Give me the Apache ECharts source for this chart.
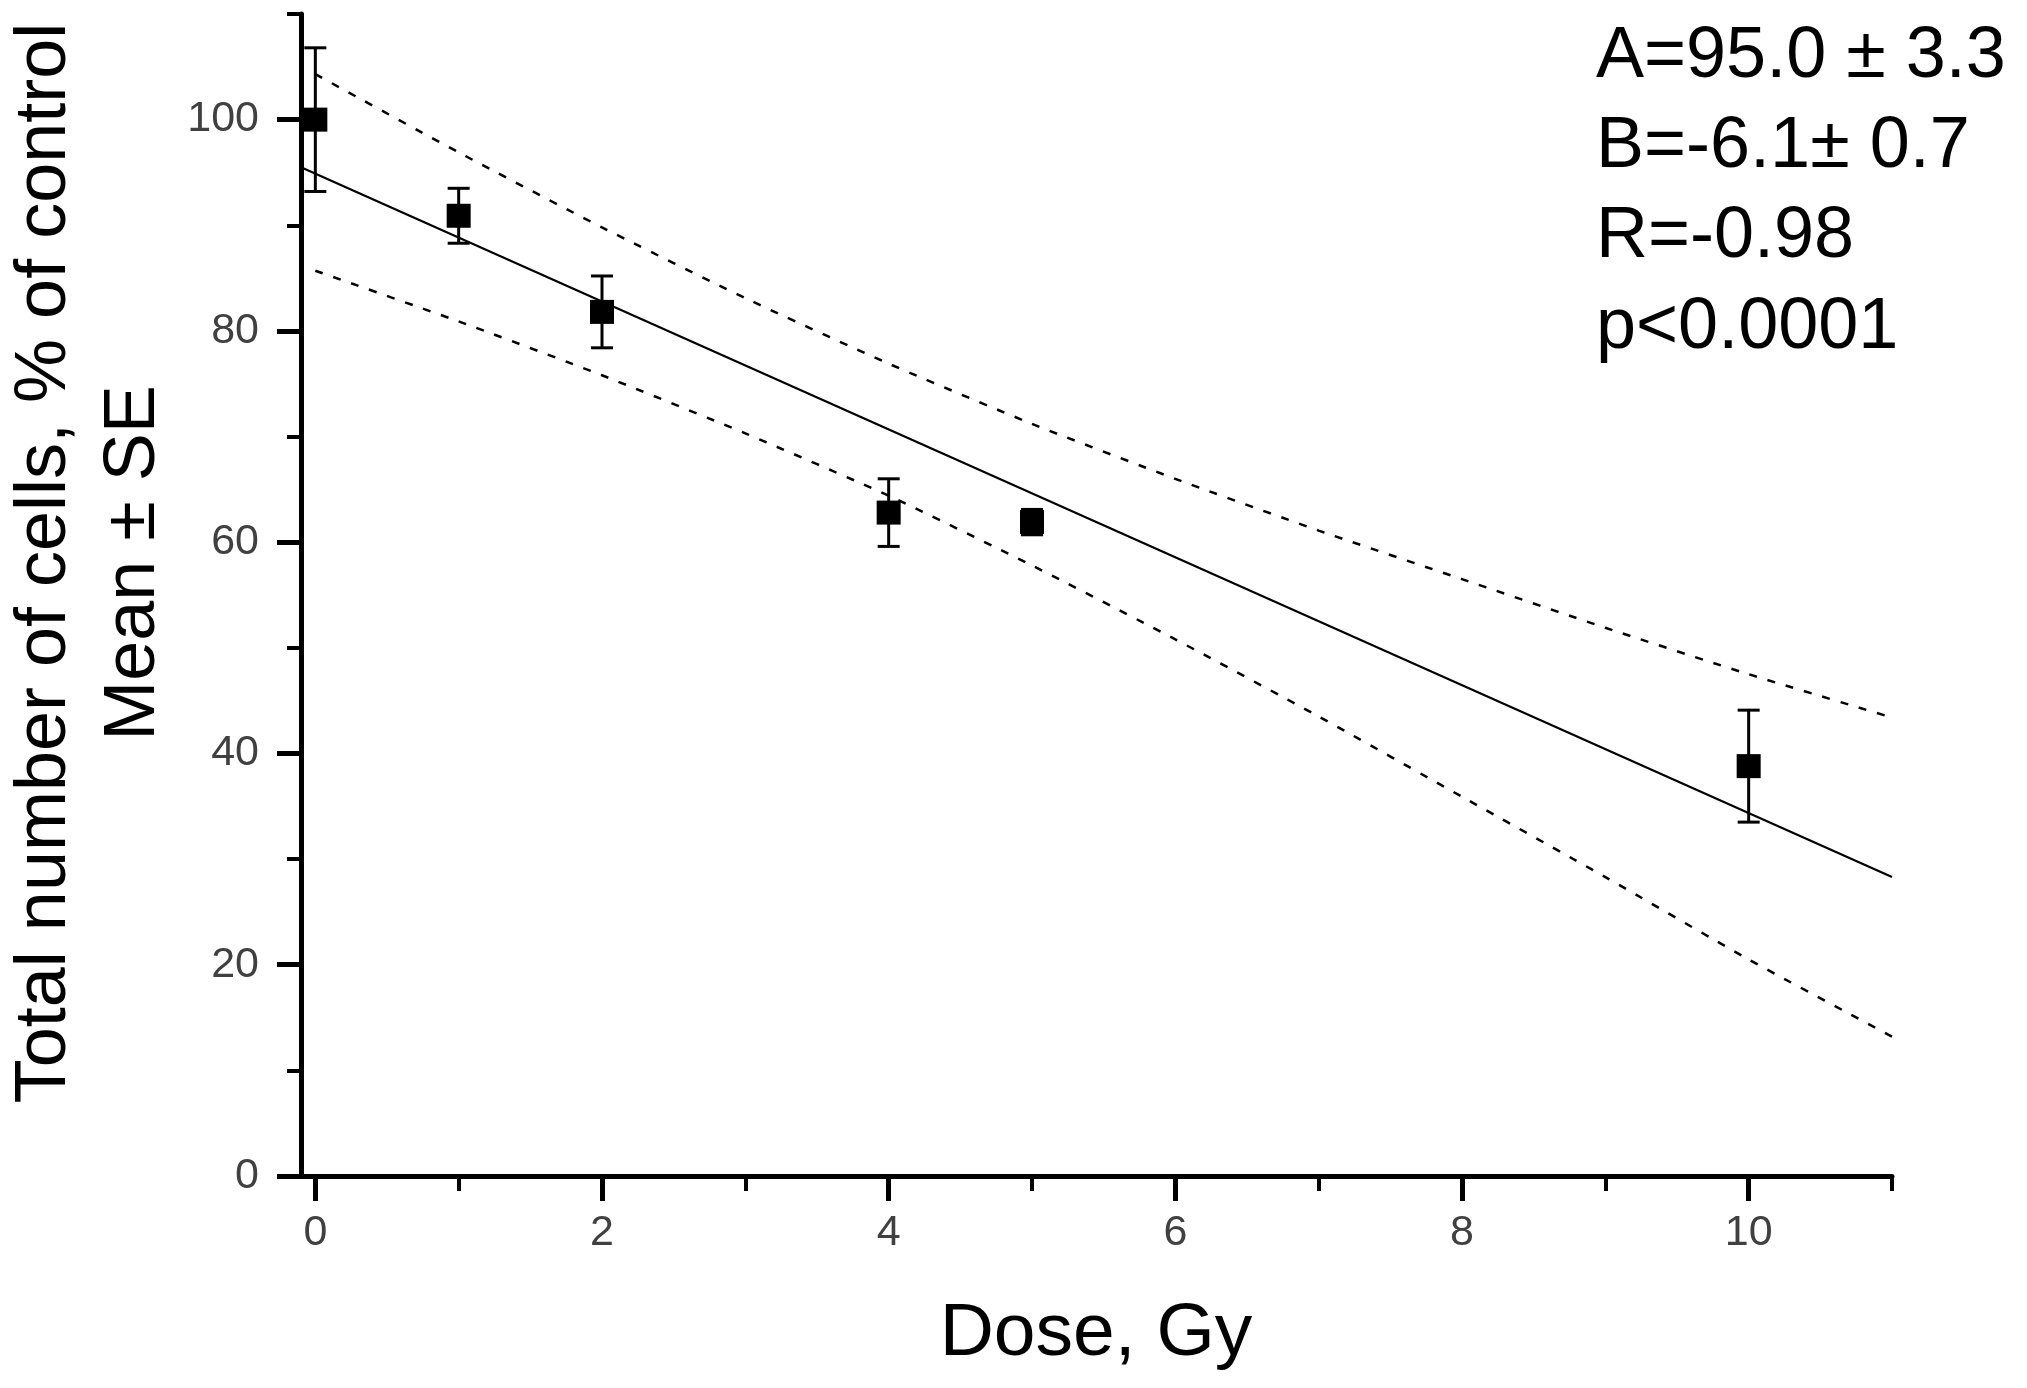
<!DOCTYPE html>
<html>
<head>
<meta charset="utf-8">
<script src="https://cdn.jsdelivr.net/npm/echarts@6/dist/echarts.min.js"></script>
<style>
html,body{margin:0;padding:0;background:#fff;}
#chart{width:2027px;height:1388px;}
</style>
</head>
<body>
<div id="chart"></div>
<script>
// ---- data ----
const doses = [0, 1, 2, 4, 5, 10];
const means = [100, 90.9, 81.8, 62.8, 61.9, 38.8];
const se = [6.8, 2.6, 3.4, 3.2, 1.2, 5.3];

const fitX = [-0.1, 11];
const fitY = [95.5, 28.3];

const bandX = [0, 1, 2, 3, 4, 5, 6, 7, 8, 9, 10, 11];
const bandUpper = [104.3, 96.9, 89.8, 83.1, 76.9, 71.2, 66.0, 61.1, 56.5, 51.9, 47.5, 43.4];
const bandLower = [85.7, 80.9, 75.8, 70.3, 64.4, 57.8, 50.8, 43.5, 35.9, 28.3, 20.5, 13.2];

const xMajorTicks = [0, 2, 4, 6, 8, 10];
const xMinorTicks = [1, 3, 5, 7, 9, 11];
const yMajorTicks = [0, 20, 40, 60, 80, 100];
const yMinorTicks = [10, 30, 50, 70, 90, 110];

const xTitle = 'Dose, Gy';
const yTitle1 = 'Total number of cells, % of control';
const yTitle2 = 'Mean \u00B1 SE';
const statLines = ['A=95.0 \u00B1 3.3', 'B=-6.1\u00B1 0.7', 'R=-0.98', 'p<0.0001'];

// ---- chart ----
const chart = echarts.init(document.getElementById('chart'), null, {renderer: 'canvas'});
const labelFont = {fontFamily: 'Liberation Sans, Arial, sans-serif', fontSize: 43, color: '#404040'};
const zip = (a, b) => a.map((v, i) => [v, b[i]]);

const xBase = {type: 'value', min: -0.1, max: 11, gridIndex: 0, position: 'bottom', splitLine: {show: false}};
const yBase = {type: 'value', min: 0, max: 110, gridIndex: 0, position: 'left', splitLine: {show: false}};

const option = {
  animation: false,
  backgroundColor: '#ffffff',
  grid: {left: 301, right: 135, top: 14, bottom: 212, containLabel: false},
  xAxis: [
    Object.assign({}, xBase, {
      axisLine: {show: true, onZero: false, lineStyle: {color: '#000', width: 5}},
      axisTick: {show: true, inside: false, length: 25, lineStyle: {color: '#000', width: 5}, customValues: xMajorTicks},
      axisLabel: Object.assign({show: true, margin: 36, customValues: xMajorTicks}, labelFont)
    }),
    Object.assign({}, xBase, {
      axisLine: {show: false, onZero: false},
      axisTick: {show: true, inside: false, length: 15, lineStyle: {color: '#000', width: 4}, customValues: xMinorTicks},
      axisLabel: {show: false}
    })
  ],
  yAxis: [
    Object.assign({}, yBase, {
      axisLine: {show: true, onZero: false, lineStyle: {color: '#000', width: 5}},
      axisTick: {show: true, inside: false, length: 24, lineStyle: {color: '#000', width: 5}, customValues: yMajorTicks},
      axisLabel: Object.assign({show: true, margin: 42, customValues: yMajorTicks}, labelFont)
    }),
    Object.assign({}, yBase, {
      axisLine: {show: false, onZero: false},
      axisTick: {show: true, inside: false, length: 14, lineStyle: {color: '#000', width: 4}, customValues: yMinorTicks},
      axisLabel: {show: false}
    })
  ],
  series: [
    {
      type: 'line', name: 'upper95', xAxisIndex: 0, yAxisIndex: 0,
      data: zip(bandX, bandUpper), showSymbol: false, symbol: 'none', smooth: 0.2,
      lineStyle: {color: '#000', width: 2.5, type: [8, 11]}, z: 2
    },
    {
      type: 'line', name: 'lower95', xAxisIndex: 0, yAxisIndex: 0,
      data: zip(bandX, bandLower), showSymbol: false, symbol: 'none', smooth: 0.2,
      lineStyle: {color: '#000', width: 2.5, type: [8, 11]}, z: 2
    },
    {
      type: 'line', name: 'fit', xAxisIndex: 0, yAxisIndex: 0,
      data: zip(fitX, fitY), showSymbol: false, symbol: 'none',
      lineStyle: {color: '#000', width: 2.2, type: 'solid'}, z: 3
    },
    {
      type: 'custom', name: 'se', xAxisIndex: 0, yAxisIndex: 0,
      data: doses.map((d, i) => [d, means[i], se[i]]),
      renderItem: function (params, api) {
        const x = api.value(0), y = api.value(1), e = api.value(2);
        const top = api.coord([x, y + e]);
        const bot = api.coord([x, y - e]);
        const half = 11;
        const st = {stroke: '#000', lineWidth: 3};
        return {
          type: 'group',
          children: [
            {type: 'line', shape: {x1: top[0], y1: top[1], x2: bot[0], y2: bot[1]}, style: st},
            {type: 'line', shape: {x1: top[0] - half, y1: top[1], x2: top[0] + half, y2: top[1]}, style: st},
            {type: 'line', shape: {x1: bot[0] - half, y1: bot[1], x2: bot[0] + half, y2: bot[1]}, style: st}
          ]
        };
      },
      clip: false, z: 4
    },
    {
      type: 'scatter', name: 'mean', xAxisIndex: 0, yAxisIndex: 0,
      data: zip(doses, means), symbol: 'rect', symbolSize: 24,
      itemStyle: {color: '#000', opacity: 1}, z: 5
    }
  ],
  graphic: [
    {type: 'text', x: 1096, y: 1334, style: {text: xTitle, fontFamily: 'Liberation Sans, Arial, sans-serif', fontSize: 75, fill: '#000', align: 'center', verticalAlign: 'middle'}},
    {type: 'text', x: 45, y: 563, rotation: Math.PI / 2, style: {text: yTitle1, fontFamily: 'Liberation Sans, Arial, sans-serif', fontSize: 72, fill: '#000', align: 'center', verticalAlign: 'middle'}},
    {type: 'text', x: 134, y: 563, rotation: Math.PI / 2, style: {text: yTitle2, fontFamily: 'Liberation Sans, Arial, sans-serif', fontSize: 72, fill: '#000', align: 'center', verticalAlign: 'middle'}}
  ].concat(statLines.map((t, i) => ({
    type: 'text', x: 1596, y: 57 + i * 90.3,
    style: {text: t, fontFamily: 'Liberation Sans, Arial, sans-serif', fontSize: 72, fill: '#000', align: 'left', verticalAlign: 'middle'}
  })))
};
chart.setOption(option);
</script>
</body>
</html>
